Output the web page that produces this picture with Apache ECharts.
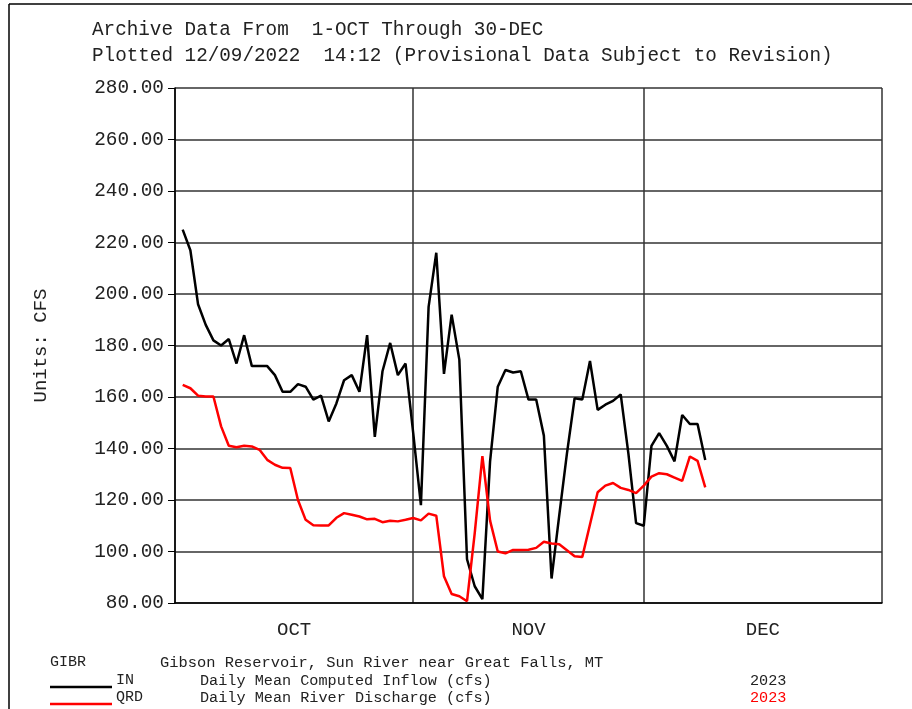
<!DOCTYPE html>
<html>
<head>
<meta charset="utf-8">
<script src="https://cdn.jsdelivr.net/npm/echarts@6/dist/echarts.min.js"></script>
<style>
  html, body { margin: 0; padding: 0; background: #fff; }
  #chart { width: 912px; height: 709px; }
</style>
</head>
<body>
<div id="chart"></div>
<script>
// daily mean values, day 1 = 1-OCT
const inflow = [
  225, 217, 196, 188, 182, 180, 182.5, 173, 184, 172,
  172, 172, 168.5, 162, 162, 165, 164, 159, 160.5, 150.5,
  157.5, 166.5, 168.5, 162, 184, 144.5, 170, 181, 168.5, 173,
  146, 118, 195, 216, 169, 192, 174.5, 97, 86.5, 81.5,
  135, 164, 170.5, 169.5, 170, 159, 159, 145, 89.5, 114,
  138, 159.5, 159, 174, 155, 157, 158.5, 161, 138, 111,
  110, 141, 146, 141, 135, 153, 149.5, 149.5, 135.5
]
const discharge = [
  164.7, 163.4, 160.5, 160.2, 160.2, 148.6, 141.1, 140.5, 141.1, 140.8,
  139.5, 135.6, 133.7, 132.5, 132.4, 120, 112.3, 110.2, 110.1, 110.1,
  113.1, 114.9, 114.3, 113.6, 112.5, 112.7, 111.4, 111.9, 111.7, 112.3,
  113, 112.1, 114.7, 113.9, 90.4, 83.5, 82.6, 80.7, 107, 137,
  112, 100, 99.3, 100.6, 100.6, 100.7, 101.4, 103.8, 103.1, 102.8,
  100.5, 98.2, 97.9, 110.5, 123, 125.6, 126.6, 124.7, 123.9, 122.7,
  125.6, 129.1, 130.4, 130, 128.7, 127.4, 136.9, 135.2, 124.9
]
const monthLabels = ['OCT', 'NOV', 'DEC']
const monthMid = [15.5, 46, 76.5]
const monthBounds = [0, 31, 61, 92]

const mono = 'Liberation Mono'
const chart = echarts.init(document.getElementById('chart'))

const toPairs = (arr) => arr.map((v, i) => [i + 1, v])

chart.setOption({
  animation: false,
  backgroundColor: '#fff',
  title: {
    text: 'Archive Data From  1-OCT Through 30-DEC\nPlotted 12/09/2022  14:12 (Provisional Data Subject to Revision)',
    left: 87,
    top: 12,
    textStyle: { fontFamily: mono, fontSize: 19.3, fontWeight: 'normal', color: '#222', lineHeight: 26 }
  },
  grid: { left: 175, top: 88, right: 30, bottom: 106 },
  xAxis: {
    type: 'value',
    min: 0,
    max: 92,
    axisLine: { show: true, lineStyle: { color: '#000', width: 1.5 } },
    axisTick: { show: false, customValues: monthBounds },
    splitLine: { show: true, lineStyle: { color: '#333', width: 1.5 } },
    axisLabel: {
      customValues: monthMid,
      formatter: (v) => monthLabels[monthMid.indexOf(v)] || '',
      margin: 17,
      fontFamily: mono,
      fontSize: 19,
      color: '#222'
    }
  },
  yAxis: {
    type: 'value',
    min: 80,
    max: 280,
    interval: 20,
    name: 'Units: CFS',
    nameLocation: 'middle',
    nameGap: 125,
    nameTextStyle: { fontFamily: mono, fontSize: 19, color: '#222' },
    axisLine: { show: true, lineStyle: { color: '#000', width: 1.5 } },
    axisTick: { show: true, length: 7, lineStyle: { color: '#000' } },
    splitLine: { show: true, lineStyle: { color: '#333', width: 1.5 } },
    axisLabel: {
      formatter: (v) => v.toFixed(2),
      margin: 11,
      fontFamily: mono,
      fontSize: 19.4,
      color: '#222'
    }
  },
  series: [
    {
      name: 'IN',
      type: 'line',
      data: toPairs(inflow),
      showSymbol: false,
      lineStyle: { color: '#000', width: 2.5 },
      itemStyle: { color: '#000' }
    },
    {
      name: 'QRD',
      type: 'line',
      data: toPairs(discharge),
      showSymbol: false,
      lineStyle: { color: '#ff0000', width: 2.5 },
      itemStyle: { color: '#ff0000' }
    }
  ],
  graphic: [
    // outer frame
    { type: 'line', shape: { x1: 9, y1: 4, x2: 912, y2: 4 }, style: { stroke: '#000', lineWidth: 1.5 } },
    { type: 'line', shape: { x1: 9, y1: 4, x2: 9, y2: 709 }, style: { stroke: '#000', lineWidth: 1.5 } },
    // legend block
    { type: 'text', left: 50, top: 655, style: { text: 'GIBR', font: '15px "Liberation Mono"', fill: '#222' } },
    { type: 'text', left: 160, top: 655, style: { text: 'Gibson Reservoir, Sun River near Great Falls, MT', font: '15.4px "Liberation Mono"', fill: '#222' } },
    { type: 'line', shape: { x1: 50, y1: 687, x2: 112, y2: 687 }, style: { stroke: '#000', lineWidth: 2.5 } },
    { type: 'text', left: 116, top: 673, style: { text: 'IN', font: '15px "Liberation Mono"', fill: '#222' } },
    { type: 'text', left: 200, top: 673, style: { text: 'Daily Mean Computed Inflow (cfs)', font: '15.2px "Liberation Mono"', fill: '#222' } },
    { type: 'text', left: 750, top: 673, style: { text: '2023', font: '15.2px "Liberation Mono"', fill: '#222' } },
    { type: 'line', shape: { x1: 50, y1: 704, x2: 112, y2: 704 }, style: { stroke: '#ff0000', lineWidth: 2.5 } },
    { type: 'text', left: 116, top: 690, style: { text: 'QRD', font: '15px "Liberation Mono"', fill: '#222' } },
    { type: 'text', left: 200, top: 690, style: { text: 'Daily Mean River Discharge (cfs)', font: '15.2px "Liberation Mono"', fill: '#222' } },
    { type: 'text', left: 750, top: 690, style: { text: '2023', font: '15.2px "Liberation Mono"', fill: '#ff0000' } }
  ]
})
</script>
</body>
</html>
